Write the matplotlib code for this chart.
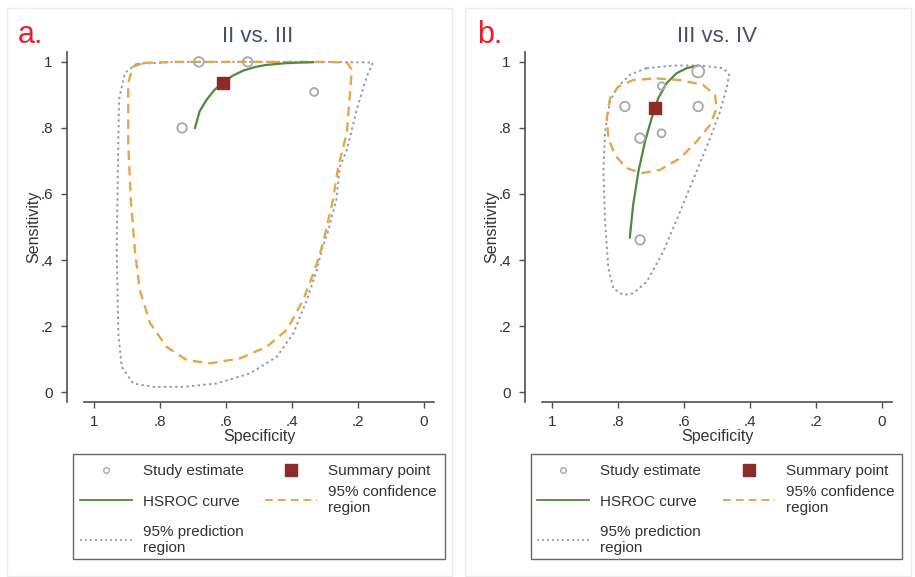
import matplotlib
matplotlib.use('Agg')
import matplotlib.pyplot as plt
import numpy as np
from matplotlib.patches import Rectangle
from matplotlib.lines import Line2D

plt.rcParams['font.family'] = ['Liberation Sans', 'DejaVu Sans']

# ---- panel a: II vs. III ----
a_study_spec = [0.733, 0.682, 0.534, 0.333]
a_study_sens = [0.800, 1.000, 1.000, 0.909]
a_study_wt = [1.0, 1.05, 1.0, 0.7]
a_summary = (0.610, 0.937)
a_hsroc_spec = [0.694, 0.68, 0.659, 0.635, 0.61, 0.58, 0.547, 0.51, 0.477, 0.42, 0.376, 0.336]
a_hsroc_sens = [0.80, 0.85, 0.885, 0.915, 0.937, 0.958, 0.974, 0.985, 0.991, 0.996, 0.998, 0.999]
a_ci_spec = [0.85, 0.75, 0.60, 0.45, 0.30, 0.233, 0.219, 0.222, 0.228, 0.234, 0.26, 0.276,
             0.297, 0.315, 0.335, 0.366, 0.416, 0.477, 0.558, 0.648, 0.719, 0.78, 0.83,
             0.861, 0.876, 0.888, 0.896, 0.896, 0.882]
a_ci_sens = [0.997, 1.0, 1.0, 1.0, 1.0, 0.998, 0.976, 0.936, 0.86, 0.785, 0.683, 0.582,
             0.49, 0.42, 0.36, 0.279, 0.188, 0.137, 0.102, 0.087, 0.097, 0.137, 0.209,
             0.309, 0.43, 0.58, 0.75, 0.936, 0.985]
a_pr_spec = [0.871, 0.75, 0.60, 0.45, 0.30, 0.155, 0.174, 0.204, 0.234, 0.255, 0.266, 0.29,
             0.31, 0.325, 0.355, 0.396, 0.446, 0.527, 0.628, 0.729, 0.82, 0.881, 0.916,
             0.926, 0.931, 0.927, 0.924, 0.906]
a_pr_sens = [0.994, 1.0, 1.0, 1.0, 1.0, 0.998, 0.955, 0.855, 0.733, 0.683, 0.582, 0.49,
             0.43, 0.37, 0.279, 0.178, 0.107, 0.057, 0.026, 0.016, 0.016, 0.026, 0.077,
             0.178, 0.43, 0.70, 0.885, 0.967]

# ---- panel b: III vs. IV ----
b_study_spec = [0.779, 0.557, 0.668, 0.557, 0.733, 0.668, 0.733]
b_study_sens = [0.865, 0.971, 0.927, 0.865, 0.769, 0.784, 0.461]
b_study_wt = [1.0, 1.6, 0.6, 1.0, 1.05, 0.7, 1.0]
b_summary = (0.688, 0.860)
b_hsroc_spec = [0.764, 0.754, 0.738, 0.718, 0.698, 0.678, 0.653, 0.622, 0.592, 0.562]
b_hsroc_sens = [0.468, 0.567, 0.668, 0.759, 0.829, 0.89, 0.935, 0.966, 0.981, 0.988]
b_ci_spec = [0.683, 0.612, 0.542, 0.506, 0.501, 0.521, 0.562, 0.612, 0.673, 0.728, 0.774,
             0.809, 0.829, 0.834, 0.824, 0.799, 0.754]
b_ci_sens = [0.95, 0.945, 0.93, 0.9, 0.86, 0.809, 0.759, 0.708, 0.673, 0.663, 0.678,
             0.718, 0.769, 0.829, 0.89, 0.925, 0.945]
b_pr_spec = [0.713, 0.632, 0.552, 0.481, 0.463, 0.471, 0.491, 0.521, 0.562, 0.612, 0.663,
             0.713, 0.754, 0.784, 0.814, 0.829, 0.839, 0.844, 0.839, 0.824, 0.804, 0.764]
b_pr_sens = [0.981, 0.989, 0.989, 0.981, 0.961, 0.92, 0.849, 0.769, 0.668, 0.546, 0.425,
             0.334, 0.299, 0.294, 0.314, 0.375, 0.516, 0.668, 0.789, 0.88, 0.92, 0.961]

ticks = [0, 0.2, 0.4, 0.6, 0.8, 1]
tick_labels = ['0', '.2', '.4', '.6', '.8', '1']

green = '#4f8a3c'
orange = '#e8a64a'
blue_gray = '#8a9ea9'
dark_red = '#8e2a2a'
gray_circle = '#a8a8a8'
axis_col = '#505050'

W, H = 915, 577
fig = plt.figure(figsize=(W / 100, H / 100), dpi=100)


def fx(px):
    return px / W


def fy(py):
    return 1 - py / H


def closed(v):
    return list(v) + [v[0]]


def panel(left_px, tag, title, tag_x, title_x, study, wt, summ, hs, ci, pr):
    ax = fig.add_axes([fx(left_px), fy(402), 350 / W, 350 / H])
    ax.plot(closed(pr[0]), closed(pr[1]), color=blue_gray, lw=1.4,
            dashes=(1.2, 1.7), zorder=2)
    ax.plot(closed(ci[0]), closed(ci[1]), color=orange, lw=1.7,
            dashes=(4, 2.6), zorder=3)
    ax.plot(hs[0], hs[1], color=green, lw=1.6, zorder=4)
    ax.scatter(study[0], study[1], s=[46 * w for w in wt], facecolors='none',
               edgecolors=gray_circle, linewidths=1.3, zorder=5)
    ax.scatter([summ[0]], [summ[1]], s=70, marker='s', color=dark_red, zorder=6)

    ax.set_xlim(1.03, -0.03)
    ax.set_ylim(-0.03, 1.03)
    ax.set_xticks(ticks)
    ax.set_xticklabels(tick_labels)
    ax.set_yticks(ticks)
    ax.set_yticklabels(tick_labels, rotation=90, va='center')
    for s in ['top', 'right']:
        ax.spines[s].set_visible(False)
    ax.spines['left'].set_position(('outward', 12.5))
    for s in ['left', 'bottom']:
        ax.spines[s].set_color(axis_col)
        ax.spines[s].set_linewidth(1.2)
    ax.tick_params(direction='out', length=4, width=1, color=axis_col,
                   labelsize=11, labelcolor='#333333')
    ax.tick_params(axis='x', pad=5)
    ax.tick_params(axis='y', pad=6)
    ax.set_xlabel('Specificity', fontsize=11.5, color='#333333', labelpad=0)
    ax.set_ylabel('Sensitivity', fontsize=11.5, color='#333333', labelpad=-1)

    fig.text(fx(title_x), fy(37), title, fontsize=16, color='#46506c',
             ha='center', va='center')
    fig.text(fx(tag_x), fy(35), tag, fontsize=22, color='#e8202a',
             ha='left', va='center')
    return ax


ax_a = panel(84, 'a.', 'II vs. III', 18, 258,
             (a_study_spec, a_study_sens), a_study_wt, a_summary,
             (a_hsroc_spec, a_hsroc_sens), (a_ci_spec, a_ci_sens),
             (a_pr_spec, a_pr_sens))
ax_b = panel(542, 'b.', 'III vs. IV', 477, 717,
             (b_study_spec, b_study_sens), b_study_wt, b_summary,
             (b_hsroc_spec, b_hsroc_sens), (b_ci_spec, b_ci_sens),
             (b_pr_spec, b_pr_sens))

# faint panel frames
for x0, x1 in [(7, 452), (465, 911)]:
    fig.patches.append(Rectangle((fx(x0), fy(576)), (x1 - x0) / W, 568 / H,
                                 transform=fig.transFigure, fill=False,
                                 ec='#ececec', lw=1))

# legends
h_study = Line2D([], [], ls='none', marker='o', ms=4, mfc='none',
                 mec=gray_circle, mew=1)
h_summ = Line2D([], [], ls='none', marker='s', ms=8, color=dark_red)
h_hs = Line2D([], [], color=green, lw=1.3)
h_ci = Line2D([], [], color=orange, lw=1.4, dashes=(4, 2.6))
h_pr = Line2D([], [], color=blue_gray, lw=1.2, dashes=(1.2, 1.8))

leg_kw = dict(frameon=False, fontsize=11, loc='upper left', borderpad=0,
              handlelength=3.4, handletextpad=0.75, borderaxespad=0)

for box_l, box_r, c1x, c2x in [(73, 445, 80, 265), (531, 902, 537, 723)]:
    l1 = fig.legend([h_study, h_hs, h_pr],
                    ['Study estimate', 'HSROC curve', '95% prediction\nregion'],
                    bbox_to_anchor=(fx(c1x), fy(464)), labelspacing=1.08, **leg_kw)
    l2 = fig.legend([h_summ, h_ci],
                    ['Summary point', '95% confidence\nregion'],
                    bbox_to_anchor=(fx(c2x), fy(464)), labelspacing=0.45, **leg_kw)
    for lg in (l1, l2):
        for t in lg.get_texts():
            t.set_linespacing(1.2)
            t.set_color('#333333')
    fig.patches.append(Rectangle((fx(box_l), fy(559)), (box_r - box_l) / W, 105 / H,
                                 transform=fig.transFigure, fill=False,
                                 ec='#666666', lw=1))

fig.savefig('out.png', dpi=100, facecolor='white')
